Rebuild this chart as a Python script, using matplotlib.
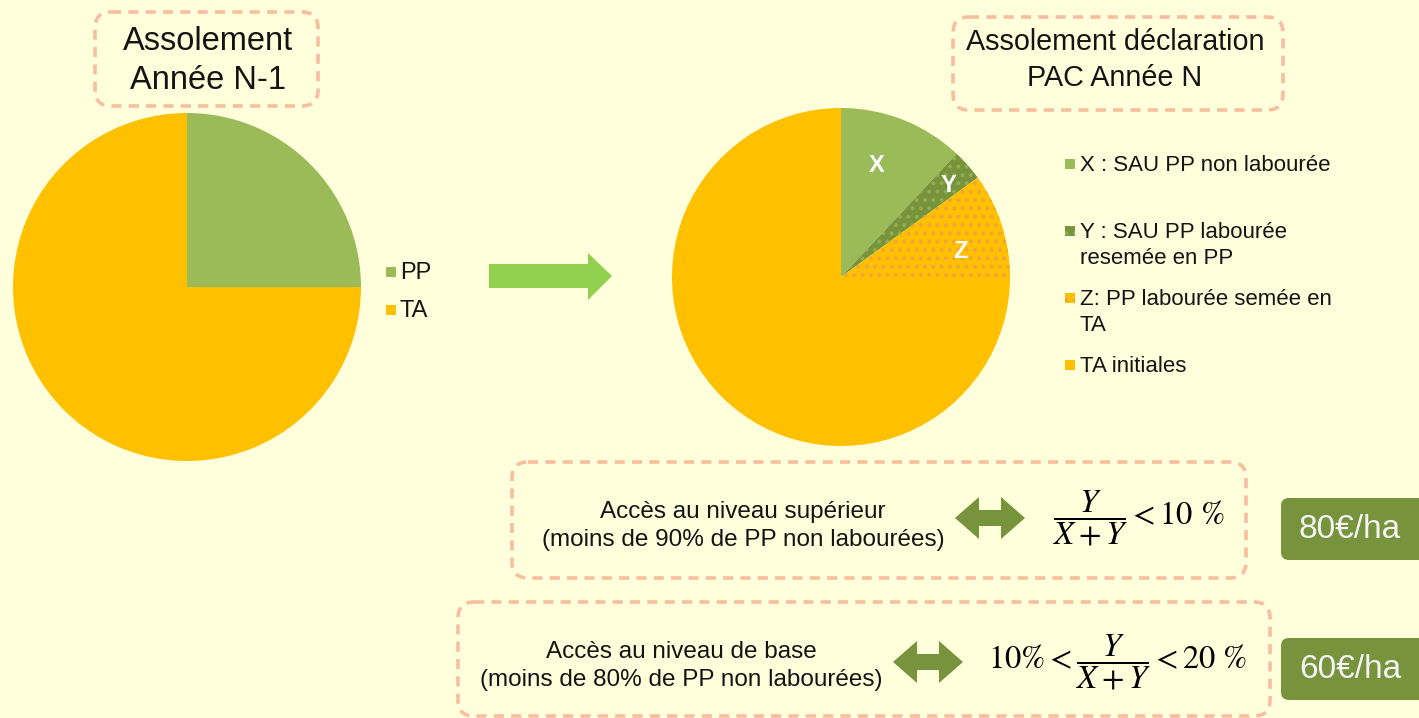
import numpy as np
import matplotlib.pyplot as plt
from matplotlib.patches import FancyBboxPatch, Rectangle, Polygon

plt.rcParams['font.family'] = ['Liberation Sans', 'DejaVu Sans']
plt.rcParams['mathtext.fontset'] = 'stix'
plt.rcParams['hatch.linewidth'] = 1.6

# --- data ---
left_labels = ['PP', 'TA']
left_values = [25, 75]
left_colors = ['#9BBB59', '#FFC000']

right_keys = ['X', 'Y', 'Z', 'TA']
right_values = [12, 3, 10, 75]
right_labels = ['X : SAU PP non labourée',
                'Y : SAU PP labourée\nresemée en PP',
                'Z: PP labourée semée en\nTA',
                'TA initiales']
right_colors = ['#9BBB59', '#77933C', '#FFC000', '#FFC000']
right_hatch = [None, '..', '..', None]
right_hatch_colors = ['#9BBB59', '#8FB050', '#F2A33A', '#FFC000']

levels = ['Accès au niveau supérieur\n(moins de 90% de PP non labourées)',
          'Accès au niveau de base\n(moins de 80% de PP non labourées)']
formulas = [r'$\dfrac{Y}{X+Y} < 10\ \%$',
            r'$10\% < \dfrac{Y}{X+Y} < 20\ \%$']
prices = ['80€/ha', '60€/ha']

W, H = 1419, 718
BG = '#FFFFDC'
DASH = '#F7BE9F'
DARK_GREEN = '#77933C'
TXT = '#141414'

fig = plt.figure(figsize=(W / 100, H / 100), dpi=100)
fig.patch.set_facecolor(BG)

ax = fig.add_axes([0, 0, 1, 1])
ax.set_xlim(0, W)
ax.set_ylim(H, 0)
ax.axis('off')
ax.set_zorder(5)


def dashed_box(x0, y0, x1, y1):
    ax.add_patch(FancyBboxPatch((x0, y0), x1 - x0, y1 - y0,
                                boxstyle='round,pad=0,rounding_size=16',
                                fill=False, ec=DASH, lw=2.6,
                                ls=(0, (2.8, 2.0))))


def pie_axes(cx, cy, r):
    pa = fig.add_axes([(cx - r) / W, (H - cy - r) / H, 2 * r / W, 2 * r / H])
    pa.set_facecolor('none')
    return pa


def double_arrow(x0, x1, yc, color):
    hl, hh, bh = 24, 21, 8
    pts = [(x0, yc), (x0 + hl, yc - hh), (x0 + hl, yc - bh), (x1 - hl, yc - bh),
           (x1 - hl, yc - hh), (x1, yc), (x1 - hl, yc + hh), (x1 - hl, yc + bh),
           (x0 + hl, yc + bh), (x0 + hl, yc + hh)]
    ax.add_patch(Polygon(pts, closed=True, fc=color, ec='none'))


# titles
dashed_box(95, 12, 318, 106)
ax.text(208, 61, 'Assolement\nAnnée N-1', ha='center', va='center',
        fontsize=23.5, color=TXT, linespacing=1.35)
dashed_box(953, 17, 1283, 110)
ax.text(1115, 60, 'Assolement déclaration\nPAC Année N', ha='center', va='center',
        fontsize=20.7, color=TXT, linespacing=1.4)

# left pie
pa = pie_axes(187, 287, 174)
pa.pie(left_values, colors=left_colors, startangle=90, counterclock=False,
       radius=1, wedgeprops=dict(linewidth=0))
pa.set_xlim(-1, 1)
pa.set_ylim(-1, 1)

for i, (lab, col) in enumerate(zip(left_labels, left_colors)):
    y = 272 + 38 * i
    ax.add_patch(Rectangle((386, y - 5), 10, 10, fc=col, ec='none'))
    ax.text(400, y + 1, lab, ha='left', va='center', fontsize=17, color=TXT)

# big arrow
ax.add_patch(Polygon([(489, 264), (588, 264), (588, 253), (612, 276),
                      (588, 300), (588, 288), (489, 288)],
                     closed=True, fc='#92D050', ec='none'))

# right pie
pb = pie_axes(841, 277, 169)
wedges, _ = pb.pie(right_values, colors=right_colors, startangle=90,
                   counterclock=False, radius=1, wedgeprops=dict(linewidth=0))
for w, h, hc in zip(wedges, right_hatch, right_hatch_colors):
    if h:
        w.set_hatch(h)
        w.set_edgecolor(hc)
pb.set_xlim(-1, 1)
pb.set_ylim(-1, 1)

for key, (x, y) in zip(right_keys[:3], [(877, 165), (948, 185), (960, 252)]):
    ax.text(x, y, key, ha='center', va='center', fontsize=17, fontweight='bold',
            color='white')

for i, (lab, col, h, hc) in enumerate(zip(right_labels, right_colors,
                                          right_hatch, right_hatch_colors)):
    y = 164 + 67 * i
    sq = Rectangle((1065, y - 5), 10, 10, fc=col, ec=hc if h else 'none', lw=0)
    if h:
        sq.set_hatch(h)
    ax.add_patch(sq)
    ax.text(1080, y - 9, lab, ha='left', va='top', fontsize=16, color=TXT,
            linespacing=1.3)

# conditions
boxes = [(512, 462, 1246, 578), (458, 602, 1270, 716)]
text_pos = [(743, 526), (681, 666)]
arrows = [(955, 1025, 518), (893, 963, 662)]
formula_pos = [(1139, 518), (1118, 662)]
price_y = [(498, 560), (638, 700)]

for i in range(2):
    dashed_box(*boxes[i])
    ax.text(*text_pos[i], levels[i], ha='center', va='center', fontsize=17.5,
            color=TXT, linespacing=1.35)
    double_arrow(*arrows[i], DARK_GREEN)
    ax.text(*formula_pos[i], formulas[i], ha='center', va='center',
            fontsize=23.5, color='black')
    y0, y1 = price_y[i]
    ax.add_patch(FancyBboxPatch((1281, y0), 160, y1 - y0,
                                boxstyle='round,pad=0,rounding_size=8',
                                fc=DARK_GREEN, ec='none'))
    ax.text(1350, (y0 + y1) / 2, prices[i], ha='center', va='center',
            fontsize=24, color='#F4F4F4')

fig.savefig('out.png', dpi=100, facecolor=BG)
